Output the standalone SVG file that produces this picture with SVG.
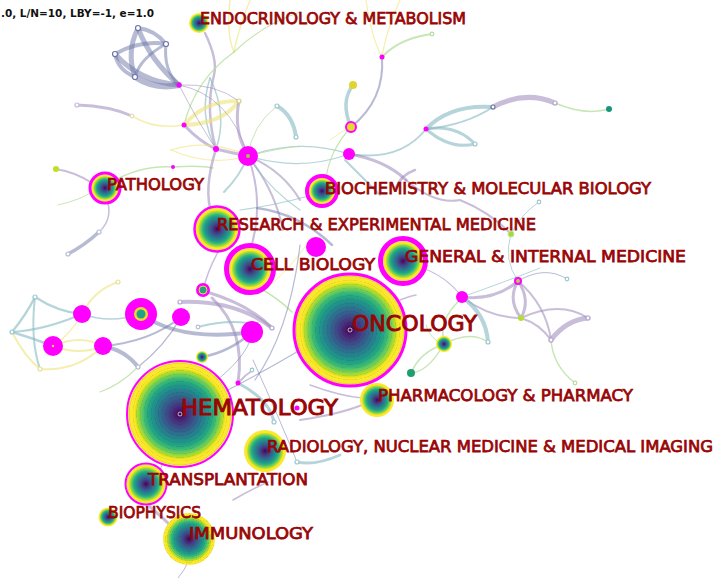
<svg xmlns="http://www.w3.org/2000/svg" width="714" height="578" viewBox="0 0 714 578">
<defs>
<radialGradient id="vir" cx="0.5" cy="0.5" r="0.5">
<stop offset="0" stop-color="#440154"/>
<stop offset="0.06" stop-color="#471365"/>
<stop offset="0.12" stop-color="#482576"/>
<stop offset="0.2" stop-color="#433d84"/>
<stop offset="0.28" stop-color="#3a538b"/>
<stop offset="0.36" stop-color="#31688e"/>
<stop offset="0.44" stop-color="#287c8e"/>
<stop offset="0.52" stop-color="#21908d"/>
<stop offset="0.6" stop-color="#22a384"/>
<stop offset="0.67" stop-color="#35b779"/>
<stop offset="0.73" stop-color="#5ec962"/>
<stop offset="0.79" stop-color="#90d743"/>
<stop offset="0.84" stop-color="#c8e020"/>
<stop offset="0.88" stop-color="#fde725"/>
<stop offset="1" stop-color="#f8e83a"/>
</radialGradient>
<radialGradient id="rings" cx="0.5" cy="0.5" r="0.035" spreadMethod="repeat">
<stop offset="0" stop-color="#000" stop-opacity="0"/>
<stop offset="0.75" stop-color="#000" stop-opacity="0"/>
<stop offset="1" stop-color="#000" stop-opacity="0.1"/>
</radialGradient>
<style>
.e path{fill:none;stroke-linecap:round}
.l{stroke:#9c88bc;stroke-opacity:.55}
.t{stroke:#86b9c2;stroke-opacity:.6}
.y{stroke:#efe47a;stroke-opacity:.6}
.g{stroke:#b5dd9c;stroke-opacity:.75}
.b{stroke:#6e76a8;stroke-opacity:.5}
.v{fill:url(#vir)}
.r{fill:url(#rings)}
.m{fill:#ff00ff}
.mr{fill:none;stroke:#ff00ff}
.h{fill:#fff;stroke-width:1.2}
.lab{font-family:"DejaVu Sans",Verdana,sans-serif;fill:#990505;stroke:#990505;stroke-width:0.75;font-size:16px}
.big{font-size:20.5px;stroke-width:0.9}
</style>
</defs>
<rect width="714" height="578" fill="#fff"/>

<g id="connectors" class="e">
<path class="b" stroke-width="5" d="M138,28 Q150,60 179,85"/>
<path class="b" stroke-width="4" d="M138,28 Q155,30 166,44"/>
<path class="b" stroke-width="5" d="M138,28 Q126,52 135,77"/>
<path class="b" stroke-width="4" d="M115,54 Q140,40 166,44"/>
<path class="b" stroke-width="4" d="M115,54 Q118,70 135,77"/>
<path class="b" stroke-width="5" d="M115,54 Q140,82 179,85"/>
<path class="b" stroke-width="3" d="M166,44 Q163,70 179,85"/>
<path class="b" stroke-width="6" d="M135,77 Q155,90 179,85"/>
<path class="b" stroke-width="3" d="M166,44 Q140,58 135,77"/>
<path class="l" stroke-width="2.5" d="M205,33 Q218,60 214,75 Q205,110 216,149"/>
<path class="y" stroke-width="1.4" d="M230,0 Q226,35 234,52"/>
<path class="y" stroke-width="1.4" d="M250,0 Q238,30 234,52"/>
<path class="g" stroke-width="1.4" d="M234,52 Q195,80 184,125"/>
<path class="g" stroke-width="1.2" d="M234,52 Q262,25 300,12"/>
<path class="t" stroke-width="1.5" d="M210,78 Q198,115 216,149"/>
<path class="t" stroke-width="1.5" d="M210,78 Q228,115 216,149"/>
<path class="y" stroke-width="4" d="M184,125 Q205,100 239,101"/>
<path class="y" stroke-width="4" d="M184,125 Q222,124 239,101"/>
<path class="l" stroke-width="1" d="M179,85 Q215,83 239,101"/>
<path class="l" stroke-width="1" d="M179,85 Q198,122 216,149"/>
<path class="l" stroke-width="1" d="M179,85 Q230,95 248,156"/>
<path class="l" stroke-width="3" d="M77,105 Q110,106 132,116"/>
<path class="y" stroke-width="1.5" d="M132,116 Q155,130 184,125"/>
<path class="l" stroke-width="3" d="M184,125 Q200,142 216,149 Q232,153 248,156"/>
<path class="l" stroke-width="3" d="M239,101 Q233,130 248,156"/>
<path class="y" stroke-width="1.2" d="M171,150 Q210,138 248,156"/>
<path class="y" stroke-width="1.2" d="M171,150 Q210,167 248,156"/>
<path class="t" stroke-width="4" d="M277,106 Q293,115 296,137"/>
<path class="g" stroke-width="1" d="M248,156 Q252,125 277,106"/>
<path class="t" stroke-width="1.2" d="M248,156 Q300,138 349,154"/>
<path class="t" stroke-width="1.2" d="M248,156 Q300,172 349,154"/>
<path class="g" stroke-width="1" d="M248,156 Q280,148 300,146"/>
<path class="g" stroke-width="1.5" d="M110,183 Q140,165 173,167 Q200,165 213,168"/>
<path class="l" stroke-width="2" d="M56,169 Q75,172 92,183"/>
<path class="l" stroke-width="2.5" d="M216,149 Q203,190 212,215"/>
<path class="l" stroke-width="2" d="M248,156 Q264,200 252,244"/>
<path class="t" stroke-width="2" d="M248,156 Q240,176 224,192"/>
<path class="l" stroke-width="2" d="M248,156 Q282,170 300,200"/>
<path class="l" stroke-width="2" d="M248,156 Q275,190 283,230"/>
<path class="t" stroke-width="1.2" d="M248,156 Q268,188 300,210"/>
<path class="l" stroke-width="1.5" d="M108,203 Q112,220 99,232"/>
<path class="b" stroke-width="3.5" d="M99,232 Q85,245 68,254"/>
<path class="g" stroke-width="1" d="M58,205 Q80,200 92,192"/>
<path class="b" stroke-width="2" d="M382,57 Q385,100 351,127"/>
<path class="y" stroke-width="1.2" d="M366,0 Q372,40 382,57"/>
<path class="y" stroke-width="1.2" d="M400,0 Q385,35 382,57"/>
<path class="g" stroke-width="2" d="M382,57 Q400,38 432,34"/>
<path class="t" stroke-width="3.5" d="M353,85 Q340,102 351,127"/>
<path class="g" stroke-width="1.2" d="M351,127 Q330,150 326,178"/>
<path class="y" stroke-width="1" d="M351,127 Q340,132 330,140"/>
<path class="t" stroke-width="2" d="M349,154 Q400,162 426,129"/>
<path class="t" stroke-width="4" d="M426,129 Q450,104 493,107"/>
<path class="t" stroke-width="2" d="M426,129 Q466,125 493,107"/>
<path class="t" stroke-width="3" d="M426,129 Q456,124 475,144"/>
<path class="t" stroke-width="3" d="M426,129 Q450,150 475,144"/>
<path class="l" stroke-width="5" d="M493,107 Q525,90 555,103"/>
<path class="g" stroke-width="1.5" d="M555,103 Q585,116 609,109"/>
<path class="l" stroke-width="3" d="M349,154 Q385,160 406,180"/>
<path class="l" stroke-width="2" d="M406,180 Q435,205 460,200 Q490,212 511,234"/>
<path class="t" stroke-width="2" d="M345,160 Q360,175 380,195"/>
<path class="l" stroke-width="2.5" d="M395,190 Q400,175 415,170"/>
<path class="t" stroke-width="1" d="M511,234 Q520,215 539,202"/>
<path class="t" stroke-width="1" d="M511,234 Q503,260 518,281"/>
<path class="l" stroke-width="1.2" d="M422,268 Q446,276 462,297"/>
<path class="l" stroke-width="3" d="M462,297 Q495,301 518,281"/>
<path class="l" stroke-width="2" d="M462,297 Q490,318 521,318"/>
<path class="l" stroke-width="3" d="M518,281 Q507,300 521,318"/>
<path class="l" stroke-width="3" d="M518,281 Q531,300 521,318"/>
<path class="l" stroke-width="2" d="M521,318 Q560,300 588,318"/>
<path class="l" stroke-width="5" d="M551,340 Q566,320 588,318"/>
<path class="l" stroke-width="2" d="M518,281 Q546,305 551,340"/>
<path class="l" stroke-width="2" d="M521,318 Q540,324 551,340"/>
<path class="b" stroke-width="1" d="M518,281 Q545,265 567,279"/>
<path class="t" stroke-width="1" d="M462,297 Q510,280 540,268"/>
<path class="g" stroke-width="1.5" d="M551,340 Q553,366 575,383"/>
<path class="t" stroke-width="4" d="M462,297 Q486,314 488,342"/>
<path class="g" stroke-width="1.5" d="M444,344 Q420,352 411,373"/>
<path class="g" stroke-width="1.5" d="M444,344 Q428,372 411,373"/>
<path class="g" stroke-width="1.5" d="M444,344 Q470,330 488,342"/>
<path class="g" stroke-width="1.5" d="M460,300 Q438,320 444,344"/>
<path class="g" stroke-width="1" d="M426,325 Q430,340 444,344"/>
<path class="l" stroke-width="1.5" d="M400,300 Q410,296 416,295"/>
<path class="t" stroke-width="2.5" d="M12,332 Q26,315 35,297"/>
<path class="t" stroke-width="2.5" d="M35,297 Q58,312 82,314"/>
<path class="t" stroke-width="2" d="M35,297 Q30,340 40,369"/>
<path class="t" stroke-width="2.5" d="M12,332 Q32,338 53,346"/>
<path class="t" stroke-width="2" d="M12,332 Q45,330 82,314"/>
<path class="y" stroke-width="2" d="M12,332 Q24,356 40,369"/>
<path class="y" stroke-width="2" d="M40,369 Q76,372 103,346"/>
<path class="y" stroke-width="2" d="M53,346 Q80,334 103,346"/>
<path class="y" stroke-width="2" d="M53,346 Q80,356 103,346"/>
<path class="y" stroke-width="2" d="M82,314 Q94,290 118,282"/>
<path class="y" stroke-width="1.5" d="M53,346 Q70,335 82,314"/>
<path class="t" stroke-width="1.5" d="M82,314 Q110,324 141,314"/>
<path class="b" stroke-width="2" d="M103,346 Q150,342 181,317"/>
<path class="b" stroke-width="4" d="M141,314 Q180,342 252,332"/>
<path class="b" stroke-width="4" d="M103,346 Q125,350 138,367"/>
<path class="b" stroke-width="1.5" d="M181,317 Q165,346 138,367"/>
<path class="g" stroke-width="1.2" d="M138,367 Q120,385 100,392"/>
<path class="l" stroke-width="4" d="M180,302 Q236,300 272,328"/>
<path class="l" stroke-width="3" d="M207,292 Q250,305 272,328"/>
<path class="l" stroke-width="3" d="M212,298 Q246,330 238,383"/>
<path class="b" stroke-width="2.5" d="M202,357 Q230,352 252,332"/>
<path class="t" stroke-width="2" d="M198,327 Q225,320 247,323"/>
<path class="l" stroke-width="1.5" d="M218,252 Q208,270 203,290"/>
<path class="g" stroke-width="1.5" d="M263,290 Q280,300 292,312"/>
<path class="y" stroke-width="1" d="M262,292 Q290,270 310,240"/>
<path class="b" stroke-width="2.5" d="M257,208 Q300,214 332,245"/>
<path class="t" stroke-width="1.2" d="M240,210 Q280,205 330,190"/>
<path class="b" stroke-width="1.2" d="M300,245 Q290,330 255,380"/>
<path class="b" stroke-width="1.2" d="M180,414 Q250,380 300,350"/>
<path class="b" stroke-width="1" d="M190,400 Q250,360 252,332"/>
<path class="t" stroke-width="3" d="M238,383 Q270,400 274,422"/>
<path class="t" stroke-width="3" d="M297,462 Q315,466 340,455"/>
<path class="b" stroke-width="1" d="M253,360 Q280,420 297,462"/>
<path class="l" stroke-width="2" d="M238,383 Q245,375 253,370"/>
<path class="l" stroke-width="2" d="M300,420 Q340,414 362,405"/>
<path class="l" stroke-width="1.5" d="M310,385 Q340,396 362,398"/>
<path class="l" stroke-width="1.5" d="M233,500 Q250,490 268,482"/>
<path class="l" stroke-width="3" d="M150,507 Q160,515 170,525"/>
<path class="b" stroke-width="1" d="M189,560 Q185,570 178,578"/>
<path class="b" stroke-width="1" d="M160,470 Q170,445 180,414"/>
</g>

<g id="minor-nodes">
<circle class="h" stroke="#6e76a8" cx="138" cy="28" r="2.5"/>
<circle class="h" stroke="#6e76a8" cx="166" cy="44" r="2.5"/>
<circle class="h" stroke="#6e76a8" cx="115" cy="54" r="2.5"/>
<circle class="h" stroke="#6e76a8" cx="135" cy="77" r="2.5"/>
<circle class="h" stroke="#c9b8dc" cx="77" cy="105" r="2"/>
<circle class="h" stroke="#e4dfb8" cx="132" cy="116" r="1.8"/>
<circle class="h" stroke="#d8cf8a" cx="239" cy="101" r="2"/>
<circle class="h" stroke="#9cc8cf" cx="277" cy="106" r="2"/>
<circle class="h" stroke="#9cc8cf" cx="296" cy="137" r="2"/>
<circle class="h" stroke="#6e76a8" cx="493" cy="107" r="2"/>
<circle class="h" stroke="#b7a8cf" cx="555" cy="103" r="2"/>
<circle class="h" stroke="#9cc8cf" cx="475" cy="144" r="2"/>
<circle class="h" stroke="#b7bed6" cx="68" cy="254" r="2"/>
<circle class="h" stroke="#b7bed6" cx="99" cy="232" r="2"/>
<circle class="h" stroke="#9cc8cf" cx="35" cy="297" r="2"/>
<circle class="h" stroke="#9cc8cf" cx="12" cy="332" r="2"/>
<circle class="h" stroke="#e8e0a0" cx="40" cy="369" r="2"/>
<circle class="h" stroke="#e8e0a0" cx="118" cy="282" r="2"/>
<circle class="h" stroke="#b7a8cf" cx="180" cy="302" r="2"/>
<circle class="h" stroke="#b7a8cf" cx="272" cy="328" r="2"/>
<circle class="h" stroke="#b7bed6" cx="138" cy="367" r="2"/>
<circle class="h" stroke="#b7bed6" cx="198" cy="327" r="1.8"/>
<circle class="h" stroke="#b7a8cf" cx="588" cy="318" r="2"/>
<circle class="h" stroke="#b7a8cf" cx="551" cy="340" r="2"/>
<circle class="h" stroke="#9cc8cf" cx="567" cy="279" r="1.8"/>
<circle class="h" stroke="#9cc8cf" cx="488" cy="342" r="2"/>
<circle class="h" stroke="#9cc8cf" cx="539" cy="202" r="1.8"/>
<circle class="h" stroke="#b5dd9c" cx="575" cy="383" r="1.8"/>
<circle class="h" stroke="#b5dd9c" cx="432" cy="34" r="1.8"/>
<circle class="h" stroke="#9cc8cf" cx="274" cy="422" r="2"/>
<circle class="h" stroke="#9cc8cf" cx="297" cy="462" r="2"/>
<circle class="h" stroke="#9cc8cf" cx="252" cy="370" r="1.8"/>
<circle cx="609" cy="109" r="3" fill="#17977a"/>
<circle cx="411" cy="373" r="4" fill="#1f9e72"/>
<circle cx="511" cy="234" r="3" fill="#a7d840" stroke="#c0e68a"/>
<circle cx="521" cy="318" r="3" fill="#b7dc3a"/>
<circle cx="56" cy="169" r="3" fill="#c2df23"/>
<circle cx="353" cy="85" r="4" fill="#e0d52c"/>
</g>

<g id="hub-1"><circle class="m" cx="248" cy="156" r="10"/><circle cx="248" cy="156" r="2" fill="#a0c840"/></g>
<g id="hub-2"><circle class="m" cx="349" cy="154" r="6"/></g>
<g id="hub-3"><circle cx="351" cy="127" r="5" fill="#e7da2c" stroke="#ff00ff" stroke-width="2"/></g>
<g id="hub-4"><circle class="m" cx="316" cy="247" r="10"/></g>
<g id="hub-5"><circle class="m" cx="141" cy="314" r="16"/><circle cx="141" cy="314" r="7" fill="#e7dc2a"/><circle cx="141" cy="314" r="4.5" fill="#23a08a"/></g>
<g id="hub-6"><circle class="m" cx="82" cy="314" r="9"/></g>
<g id="hub-7"><circle class="m" cx="53" cy="346" r="10"/><circle cx="53" cy="346" r="1.2" fill="#e7dc2a"/></g>
<g id="hub-8"><circle class="m" cx="103" cy="346" r="9"/></g>
<g id="hub-9"><circle class="m" cx="181" cy="317" r="9"/></g>
<g id="hub-10"><circle class="m" cx="252" cy="332" r="11"/></g>
<g id="hub-11"><circle class="m" cx="203" cy="290" r="7"/><circle cx="203" cy="290" r="4" fill="#2aa080" stroke="#d8df40" stroke-width="1"/></g>
<g id="hub-12"><circle cx="202" cy="357" r="6" class="v"/></g>
<g id="hub-13"><circle class="m" cx="462" cy="297" r="6"/></g>
<g id="hub-14"><circle class="m" cx="518" cy="281" r="4"/><circle cx="518" cy="281" r="2" fill="#a7d840"/></g>
<g id="hub-15"><circle cx="444" cy="344" r="8" class="v"/></g>
<g id="hub-16"><circle class="m" cx="426" cy="129" r="2.5"/></g>
<g id="hub-17"><circle class="m" cx="382" cy="57" r="2.5"/></g>
<g id="hub-18"><circle class="m" cx="179" cy="85" r="2.5"/></g>
<g id="hub-19"><circle class="m" cx="184" cy="125" r="2.5"/></g>
<g id="hub-20"><circle class="m" cx="216" cy="149" r="3"/></g>
<g id="hub-21"><circle class="m" cx="173" cy="167" r="2"/></g>
<g id="hub-22"><circle class="m" cx="238" cy="383" r="2.5"/></g>
<g id="hub-23"><circle class="m" cx="297" cy="408" r="2.5"/></g>

<g id="n-endocrinology"><circle class="v" cx="199" cy="23" r="10"/></g>
<g id="n-pathology"><circle class="v" cx="105" cy="188" r="13.5"/><circle class="mr" stroke-width="3" cx="105" cy="188" r="15"/></g>
<g id="n-biochemistry"><circle class="v" cx="322" cy="191" r="13"/><circle class="mr" stroke-width="4" cx="322" cy="191" r="15"/></g>
<g id="n-research"><circle class="v" cx="217" cy="229" r="21.5"/><circle class="mr" stroke-width="2.5" cx="217" cy="229" r="22.5"/></g>
<g id="n-cell"><circle class="v" cx="250" cy="269" r="21"/><circle class="mr" stroke-width="5" cx="250" cy="269" r="23.5"/></g>
<g id="n-general"><circle class="v" cx="403" cy="261" r="20"/><circle class="mr" stroke-width="5" cx="403" cy="261" r="22.5"/></g>
<g id="n-oncology"><circle class="v" cx="350" cy="330" r="55"/><circle class="r" cx="350" cy="330" r="55"/><circle class="mr" stroke-width="3" cx="350" cy="330" r="56"/><circle cx="350" cy="330" r="2" fill="none" stroke="#ddd" stroke-width="0.8"/></g>
<g id="n-hematology"><circle class="v" cx="180" cy="414" r="52"/><circle class="r" cx="180" cy="414" r="52"/><circle class="mr" stroke-width="2" cx="180" cy="414" r="53"/><circle cx="180" cy="414" r="2" fill="none" stroke="#ddd" stroke-width="0.8"/></g>
<g id="n-pharmacology"><circle class="v" cx="377" cy="400" r="17"/></g>
<g id="n-radiology"><circle class="v" cx="265" cy="451" r="21"/></g>
<g id="n-transplantation"><circle class="v" cx="146" cy="484" r="19.5"/><circle class="mr" stroke-width="2" cx="146" cy="484" r="20.5"/></g>
<g id="n-biophysics"><circle class="v" cx="108" cy="517" r="9.5"/></g>
<g id="n-immunology"><circle class="v" cx="189" cy="539" r="26"/><circle class="r" cx="189" cy="539" r="26"/></g>

<g id="labels">
<text x="1" y="17" font-family="'DejaVu Sans',sans-serif" font-weight="bold" font-size="10" fill="#111" textLength="153" lengthAdjust="spacingAndGlyphs">.0, L/N=10, LBY=-1, e=1.0</text>
<text class="lab" x="200" y="24" textLength="266" lengthAdjust="spacingAndGlyphs">ENDOCRINOLOGY &amp; METABOLISM</text>
<text class="lab" x="107" y="190" textLength="97" lengthAdjust="spacingAndGlyphs">PATHOLOGY</text>
<text class="lab" x="325" y="193.5" textLength="326" lengthAdjust="spacingAndGlyphs">BIOCHEMISTRY &amp; MOLECULAR BIOLOGY</text>
<text class="lab" x="217" y="229.5" textLength="319" lengthAdjust="spacingAndGlyphs">RESEARCH &amp; EXPERIMENTAL MEDICINE</text>
<text class="lab" x="251" y="270" textLength="124" lengthAdjust="spacingAndGlyphs">CELL BIOLOGY</text>
<text class="lab" x="405" y="262" textLength="281" lengthAdjust="spacingAndGlyphs">GENERAL &amp; INTERNAL MEDICINE</text>
<text class="lab big" x="352" y="331" textLength="125" lengthAdjust="spacingAndGlyphs">ONCOLOGY</text>
<text class="lab big" x="181" y="415" textLength="157" lengthAdjust="spacingAndGlyphs">HEMATOLOGY</text>
<text class="lab" x="378" y="401" textLength="255" lengthAdjust="spacingAndGlyphs">PHARMACOLOGY &amp; PHARMACY</text>
<text class="lab" x="267" y="452" textLength="446" lengthAdjust="spacingAndGlyphs">RADIOLOGY, NUCLEAR MEDICINE &amp; MEDICAL IMAGING</text>
<text class="lab" x="148" y="485" textLength="160" lengthAdjust="spacingAndGlyphs">TRANSPLANTATION</text>
<text class="lab" x="108" y="517.5" textLength="93" lengthAdjust="spacingAndGlyphs">BIOPHYSICS</text>
<text class="lab" x="189" y="539" textLength="124" lengthAdjust="spacingAndGlyphs">IMMUNOLOGY</text>
</g>
</svg>
